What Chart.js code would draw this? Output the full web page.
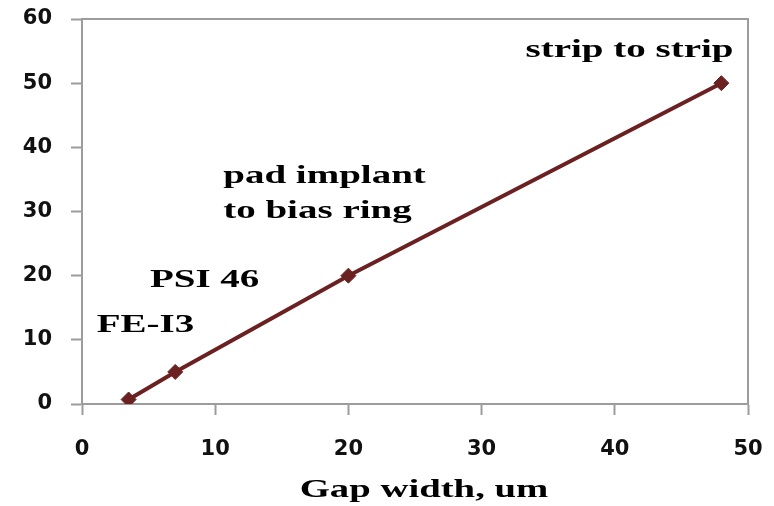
<!DOCTYPE html>
<html>
<head>
<meta charset="utf-8">
<script src="https://cdn.jsdelivr.net/npm/chart.js@4/dist/chart.umd.min.js"></script>
<style>
  html, body { margin: 0; padding: 0; background: #ffffff; }
  #wrap { width: 774px; height: 506px; position: relative; }
</style>
</head>
<body>
<div id="wrap"><canvas id="chart"></canvas></div>
<script>
// Gap width (um) and the measured value for each structure
const gapWidth = [3.5, 7, 20, 48];
const yValues = [0.7, 5, 20, 50];

// Axis ranges and tick steps
const xTicks = [0, 10, 20, 30, 40, 50];
const yTicks = [0, 10, 20, 30, 40, 50, 60];

// Structure names written beside the line, anchored in data units
const noteLines = [["strip to strip"], ["pad implant", "to bias ring"], ["PSI 46"], ["FE-I3"]];
const noteAnchors = [[33.3, 54.1], [10.6, 34.5], [5.1, 18.3], [1.1, 11.25]];
const axisTitle = "Gap width, um";

const AXIS_GREY = '#9c9c9c';
const LINE_RED = '#6b2121';
const SERIF = '"Liberation Serif", "Times New Roman", serif';

function wideText(ctx, text, x, y, sx) {
  ctx.save();
  ctx.translate(x, y);
  ctx.scale(sx, 1);
  ctx.fillText(text, 0, 0);
  ctx.restore();
}

const framePlugin = {
  id: 'frame',
  beforeDatasetsDraw(chart) {
    const { ctx, chartArea: a } = chart;
    ctx.save();
    ctx.strokeStyle = AXIS_GREY;
    ctx.lineWidth = 2;
    ctx.beginPath();
    ctx.moveTo(a.left, a.top);
    ctx.lineTo(a.right, a.top);
    ctx.lineTo(a.right, a.bottom);
    ctx.stroke();
    ctx.restore();
  },
  afterDraw(chart) {
    const { ctx, chartArea: a, scales } = chart;
    const sx = 1.5;
    ctx.save();
    ctx.fillStyle = '#000000';
    ctx.textBaseline = 'alphabetic';
    ctx.textAlign = 'left';
    ctx.font = 'bold 26px ' + SERIF;
    noteLines.forEach((lines, i) => {
      const x = scales.x.getPixelForValue(noteAnchors[i][0]);
      const y = scales.y.getPixelForValue(noteAnchors[i][1]);
      lines.forEach((t, j) => wideText(ctx, t, x, y + j * 35, sx));
    });
    // x-axis title under the plot, slightly right of centre
    ctx.font = 'bold 25px ' + SERIF;
    const w = ctx.measureText(axisTitle).width * 1.55;
    wideText(ctx, axisTitle, (a.left + a.right) / 2 + 9 - w / 2, a.bottom + 93, 1.55);
    ctx.restore();
  }
};

const tickFont = { family: '"DejaVu Sans", Verdana, sans-serif', size: 21, weight: 'bold' };

new Chart(document.getElementById('chart'), {
  type: 'line',
  data: {
    datasets: [{
      data: gapWidth.map((x, i) => ({ x, y: yValues[i] })),
      borderColor: LINE_RED,
      backgroundColor: LINE_RED,
      borderWidth: 4,
      pointStyle: 'rectRot',
      pointRadius: 7.5,
      pointHoverRadius: 7.5,
      pointBorderWidth: 1,
      tension: 0,
      fill: false
    }]
  },
  options: {
    responsive: true,
    maintainAspectRatio: false,
    animation: false,
    events: [],
    layout: { padding: { top: 19, right: 26, left: 0, bottom: 0 } },
    plugins: { legend: { display: false }, tooltip: { enabled: false } },
    scales: {
      x: {
        type: 'linear',
        min: xTicks[0],
        max: xTicks[xTicks.length - 1],
        afterFit(scale) { scale.height = 102; scale.paddingLeft = 0; scale.paddingRight = 0; },
        afterBuildTicks(scale) { scale.ticks = xTicks.map(v => ({ value: v })); },
        grid: { drawOnChartArea: false, drawTicks: true, tickLength: 11, tickColor: AXIS_GREY, tickWidth: 2 },
        border: { display: true, color: AXIS_GREY, width: 2 },
        ticks: { font: tickFont, color: '#111111', padding: 22, maxRotation: 0, autoSkip: false }
      },
      y: {
        type: 'linear',
        min: yTicks[0],
        max: yTicks[yTicks.length - 1],
        afterFit(scale) { scale.width = 82; scale.paddingTop = 0; scale.paddingBottom = 0; },
        afterBuildTicks(scale) { scale.ticks = yTicks.map(v => ({ value: v })); },
        grid: { drawOnChartArea: false, drawTicks: true, tickLength: 11, tickColor: AXIS_GREY, tickWidth: 2 },
        border: { display: true, color: AXIS_GREY, width: 2 },
        ticks: { font: tickFont, color: '#111111', padding: 19, autoSkip: false }
      }
    }
  },
  plugins: [framePlugin]
});
</script>
</body>
</html>
